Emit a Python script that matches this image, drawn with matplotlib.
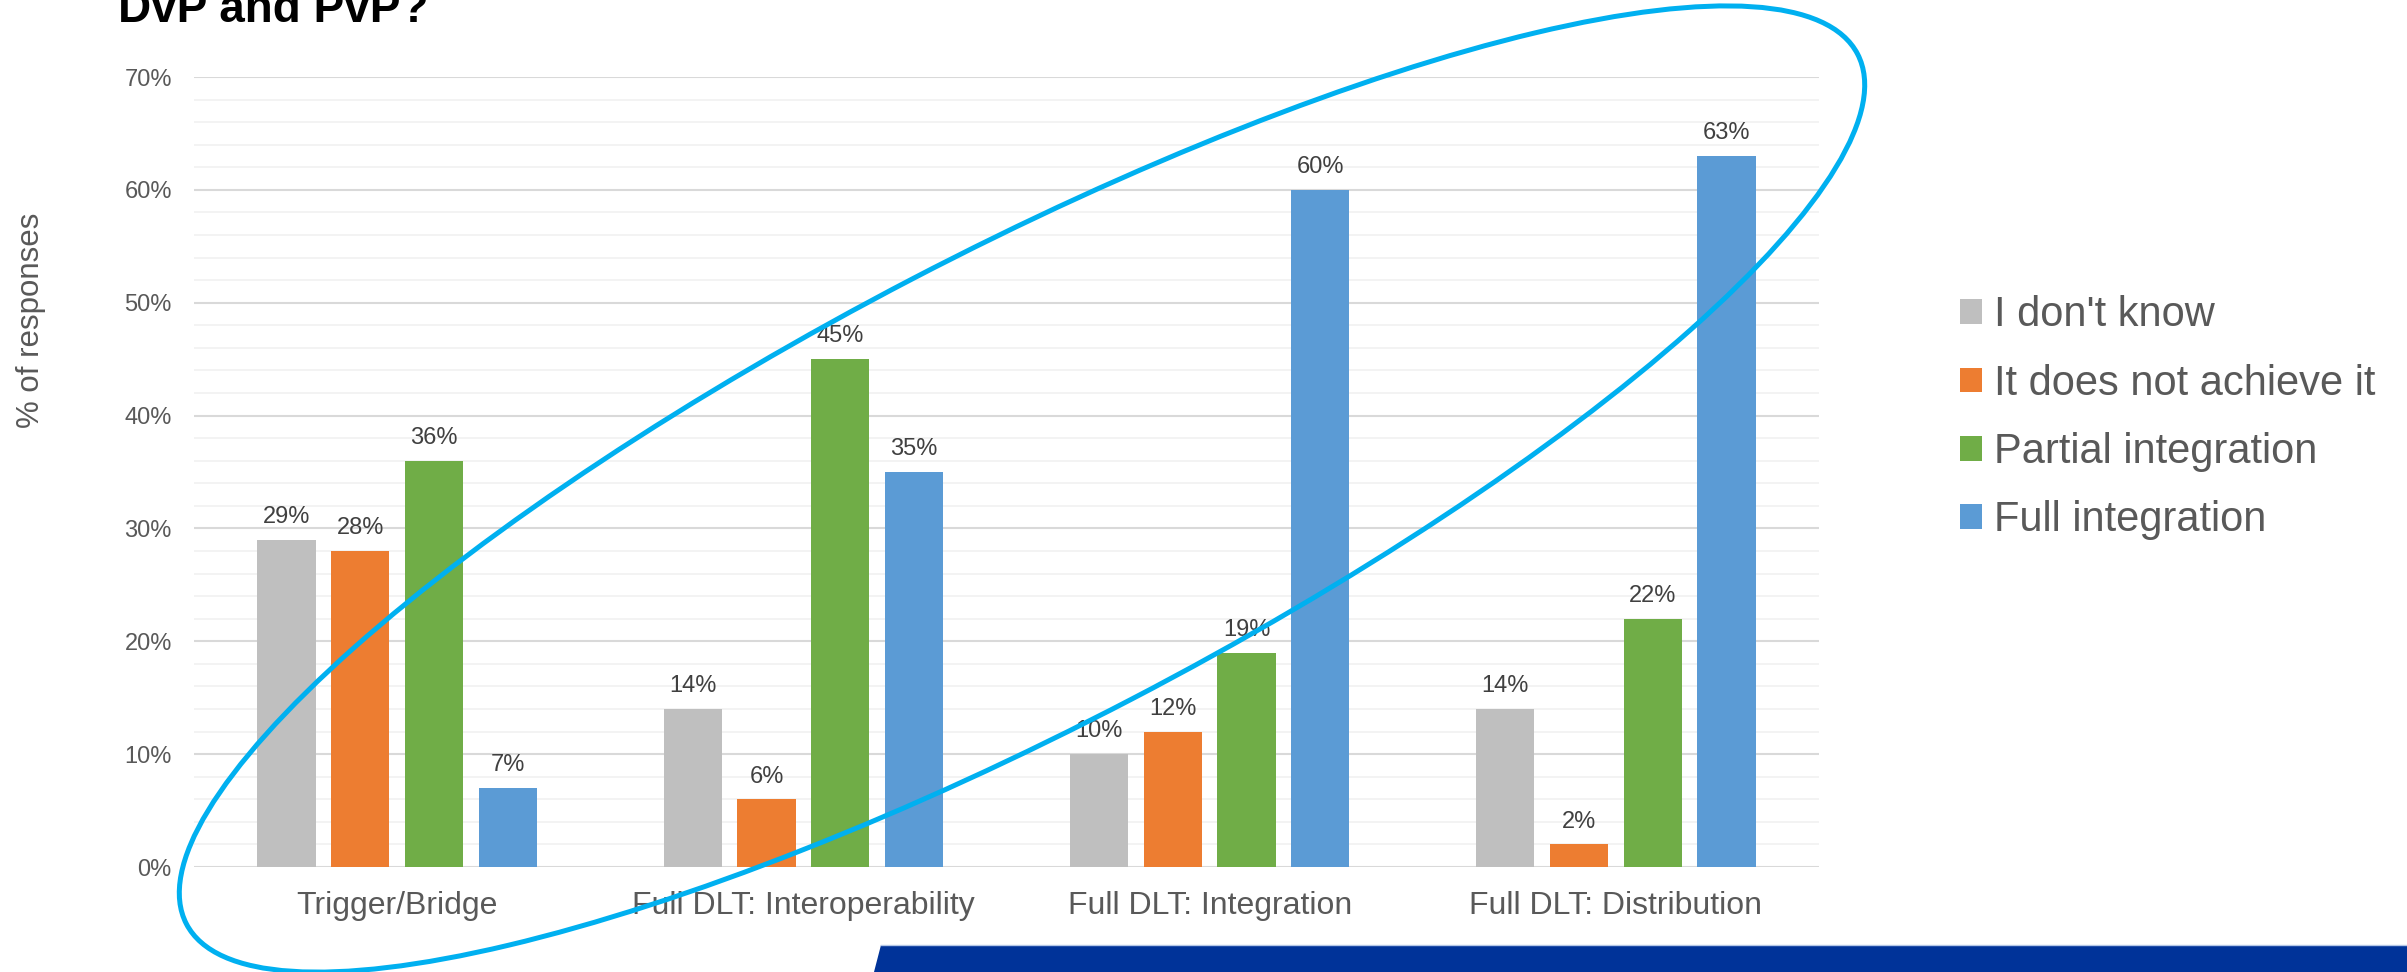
import numpy as np
import matplotlib.pyplot as plt
from matplotlib.patches import Ellipse, Polygon
from matplotlib.transforms import IdentityTransform
from matplotlib.ticker import MultipleLocator, PercentFormatter

plt.rcParams['font.family'] = ['Liberation Sans', 'DejaVu Sans']

categories = ['Trigger/Bridge', 'Full DLT: Interoperability',
              'Full DLT: Integration', 'Full DLT: Distribution']
series = ["I don't know", 'It does not achieve it',
          'Partial integration', 'Full integration']
dont_know = [29, 14, 10, 14]
not_achieve = [28, 6, 12, 2]
partial = [36, 45, 19, 22]
full = [7, 35, 60, 63]
colors = ['#BFBFBF', '#ED7D31', '#70AD47', '#5B9BD5']

W, H = 2407, 972
fig = plt.figure(figsize=(W / 100, H / 100), dpi=100)
ax = fig.add_axes([194 / W, 1 - 867 / H, (1819 - 194) / W, (867 - 77) / H])

x = np.arange(len(categories))
width = 0.1437
step = 0.1816
for i, (name, vals) in enumerate(zip(series, [dont_know, not_achieve, partial, full])):
    pos = x + (i - 1.5) * step
    ax.bar(pos, np.array(vals) / 100, width, color=colors[i], label=name, zorder=3)
    for xp, v in zip(pos, vals):
        ax.annotate(f'{v}%', (xp, v / 100), xytext=(0, 12), textcoords='offset points',
                    ha='center', va='baseline', fontsize=17, color='#404040', zorder=4)

ax.set_xlim(-0.5, 3.5)
ax.set_ylim(0, 0.70)
ax.yaxis.set_major_locator(MultipleLocator(0.10))
ax.yaxis.set_minor_locator(MultipleLocator(0.02))
ax.yaxis.set_major_formatter(PercentFormatter(1.0, decimals=0))
ax.grid(axis='y', which='minor', color='#F2F2F2', linewidth=1.3, zorder=0)
ax.grid(axis='y', which='major', color='#D9D9D9', linewidth=1.5, zorder=1)
ax.set_axisbelow(True)
for s in ax.spines.values():
    s.set_visible(False)
ax.tick_params(axis='y', which='both', length=0, labelsize=17, labelcolor='#595959', pad=16)
ax.tick_params(axis='x', length=0, labelsize=23, labelcolor='#595959', pad=17)
ax.set_xticks(x)
ax.set_xticklabels(categories)

fig.text(31 / W, 1 - 320 / H, '% of responses', rotation=90, ha='center', va='center',
         fontsize=22.5, color='#595959')
fig.text(118 / W, 1 - 22 / H, 'DvP and PvP?', ha='left', va='baseline',
         fontsize=33, fontweight='bold', color='black')

ax.legend(loc='center left', bbox_to_anchor=(1943 / W, 1 - 418 / H),
          bbox_transform=fig.transFigure, frameon=False, fontsize=30,
          labelcolor='#595959', handlelength=0.53, handleheight=0.53,
          handletextpad=0.3, labelspacing=0.68, borderaxespad=0)

# highlight ring around the DLT columns
ring = Ellipse((1022, H - 489), 2 * 942, 2 * 237, angle=27.5, fill=False,
               edgecolor='#00B0F0', linewidth=3.6, transform=IdentityTransform(), zorder=10)
fig.add_artist(ring)

# footer band
band = Polygon([(874, 0), (881, H - 945), (W, H - 945), (W, 0)], closed=True,
               facecolor='#003399', edgecolor='none', transform=IdentityTransform(), zorder=9)
fig.add_artist(band)
fig.add_artist(plt.Line2D([881, W], [H - 944.5, H - 944.5], color='#B4C7E7', linewidth=1,
                          transform=IdentityTransform(), zorder=9))

fig.savefig('out.png', dpi=100)
